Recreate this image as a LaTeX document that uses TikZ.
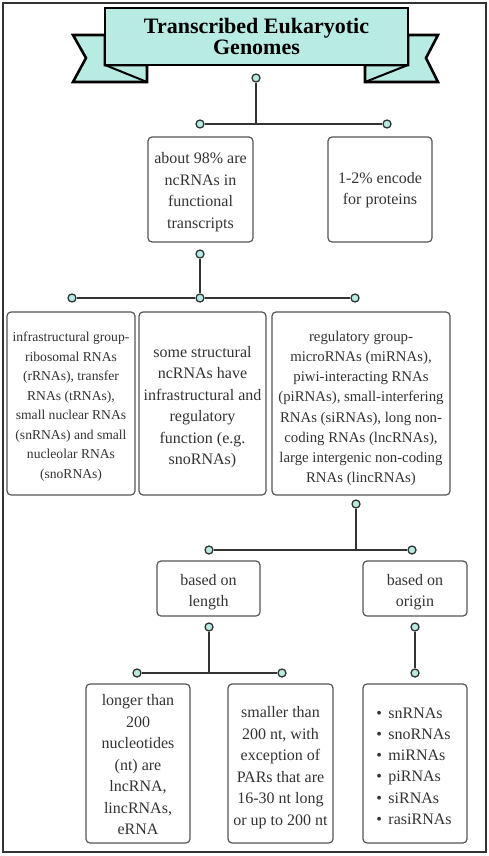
\documentclass[tikz,border=0pt]{standalone}
\usepackage{fontspec}
\setmainfont{Liberation Serif}
\definecolor{tealfill}{HTML}{B8EBE2}
\definecolor{boxgray}{HTML}{555555}
\definecolor{linec}{HTML}{333333}
\definecolor{textgray}{HTML}{333333}
\begin{document}
\begin{tikzpicture}[x=1pt,y=-1pt,
  box/.style={draw=boxgray, line width=1.2pt, rounded corners=4pt, fill=white, inner sep=0pt},
  txt/.style={align=center, text=textgray, inner sep=0pt, font=\fontsize{16}{21.5}\selectfont},
  dot/.style={circle, draw=linec, fill=tealfill, line width=1.3pt,
    minimum size=8pt, inner sep=0pt},
  conn/.style={draw=linec, line width=1.6pt},
  banner/.style={draw=black, fill=tealfill, line width=2.6pt, line join=miter}]
\useasboundingbox (0,0) rectangle (488,856);
\draw[line width=1.2pt, draw=linec] (3,3) rectangle (486,852);

% banner
\draw[banner] (105,35) -- (73,35) -- (86,58) -- (73,82) -- (147,82) -- (147,65) -- (105,65) -- cycle;
\draw[banner] (408,35) -- (438,35) -- (426,58) -- (438,82) -- (365,82) -- (365,65) -- (408,65) -- cycle;
\draw[banner, line width=2pt] (105,65) -- (147,82);
\draw[banner, line width=2pt] (408,65) -- (365,82);
\node[banner, minimum width=303pt, minimum height=57pt, inner sep=0pt, align=center,
  font=\fontsize{22}{21}\selectfont\bfseries, text=black] (title) at (256.5,36.5)
  {Transcribed Eukaryotic\\Genomes};

% level 1 boxes
\node[box, minimum width=105pt, minimum height=105pt] (b1) at (200.5,189.5) {};
\node[txt] (b1t) at ([yshift=-2.5pt]b1.center) {about 98\% are\\ncRNAs in\\functional\\transcripts};
\node[box, minimum width=104pt, minimum height=105pt] (b2) at (380,189.5) {};
\node[txt] (b2t) at ([yshift=-0.5pt]b2.center) {1-2\% encode\\for proteins};

% level 2 boxes
\node[box, minimum width=128pt, minimum height=183pt] (bA) at (71,403.5) {};
\node[txt, font=\fontsize{13.6}{19.5}\selectfont] (bAt) at ([yshift=-3pt]bA.center)
  {infrastructural group-\\ribosomal RNAs\\(rRNAs), transfer\\RNAs (tRNAs),\\small nuclear RNAs\\(snRNAs) and small\\nucleolar RNAs\\(snoRNAs)};
\node[box, minimum width=127pt, minimum height=183pt] (bB) at (202.5,403.5) {};
\node[txt] (bBt) at ([yshift=-3.5pt]bB.center)
  {some structural\\ncRNAs have\\infrastructural and\\regulatory\\function (e.g.\\snoRNAs)};
\node[box, minimum width=178pt, minimum height=183pt] (bC) at (361,403.5) {};
\node[txt, font=\fontsize{14.8}{20.2}\selectfont] (bCt) at ([yshift=-5pt]bC.center)
  {regulatory group-\\microRNAs (miRNAs),\\piwi-interacting RNAs\\(piRNAs), small-interfering\\RNAs (siRNAs), long non-\\coding RNAs (lncRNAs),\\large intergenic non-coding\\RNAs (lincRNAs)};

% level 3 boxes
\node[box, minimum width=103pt, minimum height=55pt] (bL) at (208.5,588.5) {};
\node[txt] (bLt) at ([yshift=-3.5pt]bL.center) {based on\\length};
\node[box, minimum width=104pt, minimum height=55pt] (bO) at (415,588.5) {};
\node[txt] (bOt) at ([yshift=-3.5pt]bO.center) {based on\\origin};

% level 4 boxes
\node[box, minimum width=104pt, minimum height=159pt] (d1) at (138,763.5) {};
\node[txt] (d1t) at ([yshift=-1.5pt]d1.center)
  {longer than\\200\\nucleotides\\(nt) are\\lncRNA,\\lincRNAs,\\eRNA};
\node[box, minimum width=105pt, minimum height=159pt] (d2) at (280.5,763.5) {};
\node[txt] (d2t) at ([yshift=-4pt]d2.center)
  {smaller than\\200 nt, with\\exception of\\PARs that are\\16-30 nt long\\or up to 200 nt};
\node[box, minimum width=104pt, minimum height=159pt] (d3) at (415,763.5) {};
\node[txt, align=left, font=\fontsize{16}{21.2}\selectfont] (d3t) at ([xshift=-1pt,yshift=-2.5pt]d3.center)
  {•\hspace{6.5pt}snRNAs\\•\hspace{6.5pt}snoRNAs\\•\hspace{6.5pt}miRNAs\\•\hspace{6.5pt}piRNAs\\•\hspace{6.5pt}siRNAs\\•\hspace{6.5pt}rasiRNAs};

% dots
\node[dot] (t0) at (256,78) {};
\coordinate (j0) at (256,124);
\node[dot] (t1) at (200,124) {};
\node[dot] (t2) at (387,124) {};

\node[dot] (u0) at (200,254) {};
\node[dot] (u1) at (72,298) {};
\node[dot] (u2) at (200,298) {};
\node[dot] (u3) at (355,298) {};

\node[dot] (v0) at (356,504) {};
\coordinate (j2) at (356,550);
\node[dot] (v1) at (209,550) {};
\node[dot] (v2) at (412,550) {};

\node[dot] (w0) at (209,627) {};
\coordinate (j3) at (209,673);
\node[dot] (w1) at (137,673) {};
\node[dot] (w2) at (282,673) {};

\node[dot] (x0) at (415,627) {};
\node[dot] (x1) at (415,673) {};

% connectors
\draw[conn] (t0.south) -- (j0);
\draw[conn] (t1.east) -- (t2.west);
\draw[conn] (u0.south) -- (u2.north);
\draw[conn] (u1.east) -- (u2.west);
\draw[conn] (u2.east) -- (u3.west);
\draw[conn] (v0.south) -- (j2);
\draw[conn] (v1.east) -- (v2.west);
\draw[conn] (w0.south) -- (j3);
\draw[conn] (w1.east) -- (w2.west);
\draw[conn] (x0.south) -- (x1.north);
\end{tikzpicture}
\end{document}
